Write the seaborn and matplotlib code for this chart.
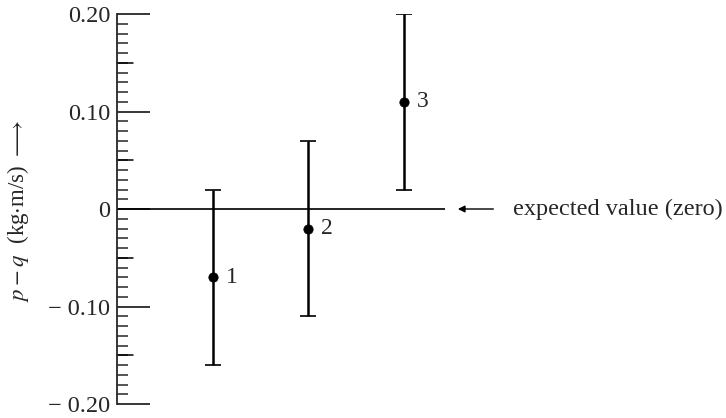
import numpy as np
import matplotlib
matplotlib.use("Agg")
import matplotlib.pyplot as plt
import seaborn as sns
import pandas as pd

# data
trial = [1, 2, 3]
diff = [-0.07, -0.02, 0.11]
err = [0.09, 0.09, 0.09]
labels = ["1", "2", "3"]
yticks = [-0.20, -0.10, 0.0, 0.10, 0.20]
ytick_labels = ["\u2212 0.20", "\u2212 0.10", "0", "0.10", "0.20"]

sns.set_style("ticks")
plt.rcParams['font.family'] = ['Liberation Serif', 'DejaVu Serif']
plt.rcParams['mathtext.fontset'] = 'stix'

fig = plt.figure(figsize=(7.26, 4.18), dpi=100)
ax = fig.add_axes([117 / 726, 1 - 404 / 418, (445 - 117) / 726, (404 - 14) / 418])

df = pd.DataFrame({'trial': trial, 'diff': diff, 'err': err})

ax.axhline(0, color='black', lw=1.2, zorder=1)
ax.errorbar(df['trial'], df['diff'], yerr=df['err'], fmt='none', ecolor='black',
            elinewidth=1.8, capsize=5.8, capthick=1.2, zorder=2)
sns.scatterplot(data=df, x='trial', y='diff', color='black', s=45, edgecolor='black',
                ax=ax, zorder=3, legend=False)

for x, y, t in zip(trial, diff, labels):
    ax.text(x + 0.14, y, t, fontsize=17, va='center', ha='left')

ax.set_xlim(0, (445 - 117) / 95.5)
ax.set_ylim(-0.20, 0.20)

# arrow + note pointing at the zero line
ax.annotate('', xy=(3.54, 0), xytext=(3.97, 0), xycoords='data',
            arrowprops=dict(arrowstyle='-|>', color='black', lw=1.0,
                            mutation_scale=10), annotation_clip=False)
ax.text(4.15, 0, 'expected value (zero)', fontsize=17.5, va='center', ha='left',
        clip_on=False)

sns.despine(ax=ax, bottom=True)
ax.spines['left'].set_linewidth(1.3)
ax.set_xticks([])
ax.set_yticks(yticks)
ax.set_yticklabels(ytick_labels, fontsize=17.5)
ax.set_yticks(np.arange(-0.20, 0.201, 0.01), minor=True)
ax.tick_params(axis='y', which='major', direction='in', length=24, width=1.3, pad=5)
ax.tick_params(axis='y', which='minor', direction='in', length=8, width=1.1)
# mid ticks at the 0.05 marks
for v in [-0.15, -0.05, 0.05, 0.15]:
    ax.plot([0, 16 / 95.5], [v, v], color='black', lw=1.1, clip_on=False, zorder=1)

ax.set_xlabel('')
ax.set_ylabel(r'$p - q$  (kg$\cdot$m/s) $\longrightarrow$', fontsize=16.5)
ax.yaxis.set_label_coords(-0.262, 0.495)

fig.savefig('out.png', dpi=100)
